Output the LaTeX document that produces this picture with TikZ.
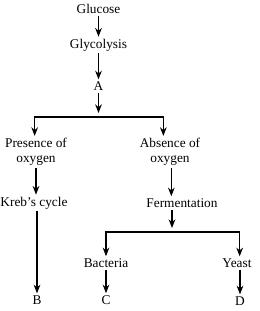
\documentclass[tikz,border=0pt]{standalone}
\usepackage{fontspec}
\setmainfont{Liberation Serif}
\usetikzlibrary{positioning,arrows.meta}

\begin{document}
\begin{tikzpicture}[x=0.75pt, y=-0.75pt,
	every node/.style={inner sep=1.5pt, align=center, font=\fontsize{10}{11.5}\selectfont},
	arr/.style={-{Stealth[length=6.5pt,width=5pt]}, line width=0.9pt}]
	\useasboundingbox (0,0) rectangle (260,311);
	\node (glu) at (98.5,9) {Glucose};
	\node (gly) at (98.5,45) {Glycolysis};
	\node (A) at (98.5,86) {A};
	\coordinate (s1) at (98.5,117);
	\node (pres) at (36,152) {Presence of\\oxygen};
	\node (abs) at (170,152) {Absence of\\oxygen};
	\node (kreb) at (34,203) {Kreb's cycle};
	\node (ferm) at (182,203) {Fermentation};
	\coordinate (s2) at (172,232);
	\node (bact) at (106,263) {Bacteria};
	\node (yeast) at (237,263) {Yeast};
	\node (B) at (37,300) {B};
	\node (C) at (106,300) {C};
	\node (D) at (240,301) {D};
	\draw[arr] (glu) -- (gly);
	\draw[arr] (gly) -- (A);
	\draw[arr, shorten >=3pt] (A) -- (s1);
	\draw[arr] (s1) -| ([xshift=-1pt]pres.north);
	\draw[arr] (s1) -| ([xshift=-5pt]abs.north);
	\draw[arr] (pres.south) -- (pres.south |- kreb.north);
	\draw[arr] ([xshift=1pt]abs.south) -- ([xshift=1pt]abs.south |- ferm.north);
	\draw[arr] (kreb.south -| B) -- (B);
	\draw[arr, shorten >=3pt] (ferm.south -| s2) -- (s2);
	\draw[arr] (s2) -| (bact);
	\draw[arr] (s2) -| ([xshift=2pt]yeast.north);
	\draw[arr] (bact) -- (C);
	\draw[arr] (yeast.south -| D) -- (D);
\end{tikzpicture}
\end{document}
